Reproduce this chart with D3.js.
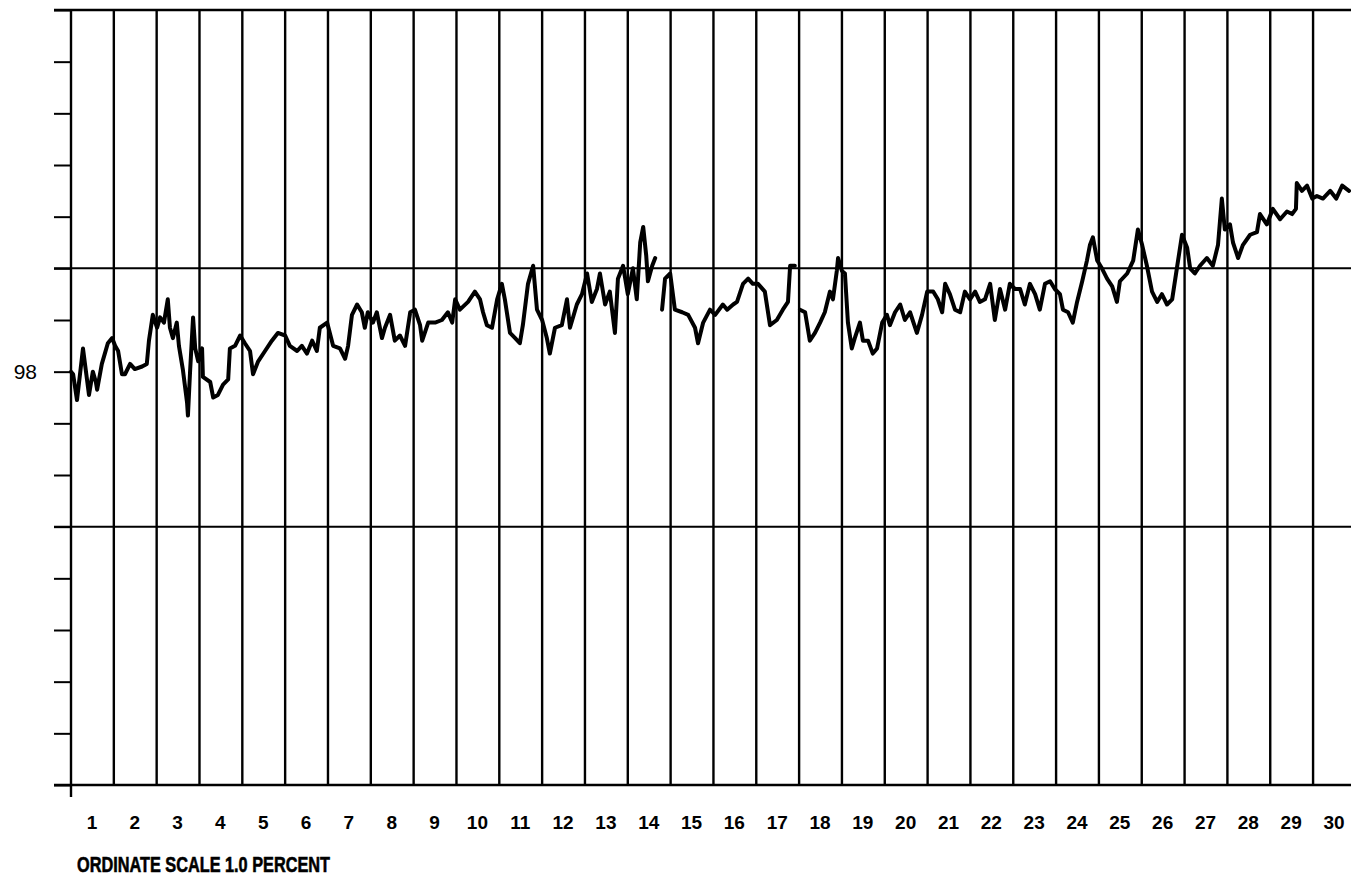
<!DOCTYPE html>
<html>
<head>
<meta charset="utf-8">
<script src="https://cdn.jsdelivr.net/npm/d3@7"></script>
<style>
  html, body { margin: 0; padding: 0; background: #fff; overflow: hidden; }
  svg { display: block; overflow: visible; }
</style>
</head>
<body>
<svg class="chartContainer" width="1351" height="880" viewBox="0 0 1351 880"></svg>
<script>
// day columns along the bottom
const days = d3.range(1, 31)

// left axis ticks, every 0.2 percent, only 98 is labelled
const yTicks = d3.range(0, 16).map(i => +(96.4 + i * 0.2).toFixed(1))
const yLabelled = [98]
const gridValues = [99.4, 98.4, 97.4, 96.4]

// trace: time in days, value in percent (null = pen gap)
const traceDay = [
  0.00, 0.05, 0.14, 0.21, 0.28, 0.35, 0.42, 0.51, 0.58, 0.61,
  0.72, 0.79, 0.86, 0.96, 1.03, 1.10, 1.19, 1.26, 1.38, 1.49,
  1.66, 1.77, 1.82, 1.91, 2.01, 2.08, 2.17, 2.26, 2.31, 2.38,
  2.47, 2.52, 2.61, 2.71, 2.73, 2.78, 2.85, 2.90, 2.97, 3.06,
  3.08, 3.25, 3.32, 3.43, 3.55, 3.67, 3.71, 3.83, 3.95, 4.06,
  4.18, 4.25, 4.37, 4.53, 4.69, 4.83, 5.00, 5.11, 5.28, 5.39,
  5.51, 5.63, 5.74, 5.81, 5.98, 6.12, 6.28, 6.40, 6.47, 6.56,
  6.68, 6.79, 6.86, 6.93, 7.05, 7.14, 7.26, 7.33, 7.45, 7.56,
  7.68, 7.80, 7.92, 8.03, 8.15, 8.20, 8.34, 8.50, 8.66, 8.80,
  8.90, 8.97, 9.08, 9.27, 9.43, 9.55, 9.62, 9.71, 9.83, 9.95,
  10.06, 10.13, 10.25, 10.37, 10.48, 10.55, 10.67, 10.79, 10.88, 11.00,
  11.11, 11.18, 11.30, 11.46, 11.58, 11.65, 11.81, 11.93, 12.05, 12.16,
  12.28, 12.35, 12.47, 12.58, 12.70, 12.77, 12.89, 13.00, 13.12, 13.21,
  13.29, 13.36, 13.43, 13.47, 13.57, 13.64, 13.72, 13.80, 13.87, 13.99,
  14.10, 14.27, 14.41, 14.57, 14.64, 14.76, 14.92, 15.04, 15.22, 15.32,
  15.46, 15.55, 15.69, 15.81, 15.92, 16.04, 16.20, 16.32, 16.48, 16.62,
  16.74, 16.79, 16.90, 16.96, 17.02, 17.14, 17.25, 17.37, 17.49, 17.60,
  17.72, 17.79, 17.88, 17.91, 18.00, 18.07, 18.14, 18.23, 18.30, 18.42,
  18.49, 18.61, 18.72, 18.82, 18.94, 19.05, 19.12, 19.24, 19.36, 19.47,
  19.59, 19.75, 19.87, 19.99, 20.13, 20.24, 20.34, 20.41, 20.52, 20.64,
  20.76, 20.87, 20.99, 21.11, 21.22, 21.34, 21.46, 21.57, 21.69, 21.81,
  21.92, 22.04, 22.16, 22.27, 22.39, 22.51, 22.62, 22.74, 22.86, 22.97,
  23.09, 23.16, 23.28, 23.39, 23.49, 23.61, 23.72, 23.79, 23.86, 23.96,
  24.07, 24.19, 24.31, 24.42, 24.49, 24.66, 24.80, 24.91, 25.01, 25.12,
  25.24, 25.36, 25.47, 25.59, 25.71, 25.82, 25.94, 26.06, 26.13, 26.24,
  26.36, 26.52, 26.66, 26.78, 26.87, 26.94, 27.06, 27.13, 27.25, 27.36,
  27.53, 27.69, 27.76, 27.92, 28.06, 28.23, 28.39, 28.51, 28.60, 28.62,
  28.74, 28.86, 28.98, 29.09, 29.23, 29.40, 29.54, 29.68, 29.84
]
const tracePct = [
  98.00, 97.99, 97.89, 97.99, 98.09, 98.00, 97.91, 98.00, 97.96, 97.93,
  98.03, 98.07, 98.11, 98.13, 98.10, 98.08, 97.99, 97.99, 98.03, 98.01,
  98.02, 98.03, 98.12, 98.22, 98.17, 98.21, 98.19, 98.28, 98.17, 98.13,
  98.19, 98.10, 98.01, 97.88, 97.83, 98.00, 98.21, 98.09, 98.04, 98.09,
  97.98, 97.96, 97.90, 97.91, 97.95, 97.97, 98.09, 98.10, 98.14, 98.11,
  98.08, 97.99, 98.04, 98.08, 98.12, 98.15, 98.14, 98.10, 98.08, 98.10,
  98.07, 98.12, 98.08, 98.17, 98.19, 98.10, 98.09, 98.05, 98.10, 98.22,
  98.26, 98.23, 98.17, 98.23, 98.19, 98.23, 98.13, 98.17, 98.22, 98.12,
  98.14, 98.10, 98.23, 98.24, 98.18, 98.12, 98.19, 98.19, 98.20, 98.23,
  98.19, 98.28, 98.24, 98.27, 98.31, 98.28, 98.23, 98.18, 98.17, 98.28,
  98.34, 98.28, 98.15, 98.13, 98.11, 98.18, 98.34, 98.41, 98.24, 98.20,
  98.13, 98.07, 98.17, 98.18, 98.28, 98.17, 98.26, 98.30, 98.38, 98.27,
  98.32, 98.38, 98.26, 98.31, 98.15, 98.36, 98.41, 98.30, 98.40, 98.28,
  98.50, 98.56, 98.45, 98.35, 98.41, 98.44, null, 98.24, 98.36, 98.38,
  98.24, 98.23, 98.22, 98.17, 98.11, 98.19, 98.24, 98.22, 98.26, 98.24,
  98.26, 98.27, 98.34, 98.36, 98.34, 98.34, 98.31, 98.18, 98.20, 98.24,
  98.27, 98.41, 98.41, null, 98.24, 98.23, 98.12, 98.15, 98.19, 98.23,
  98.31, 98.28, 98.39, 98.44, 98.39, 98.38, 98.19, 98.09, 98.13, 98.19,
  98.12, 98.12, 98.07, 98.09, 98.19, 98.22, 98.18, 98.23, 98.26, 98.20,
  98.23, 98.15, 98.22, 98.31, 98.31, 98.28, 98.23, 98.34, 98.30, 98.24,
  98.23, 98.31, 98.28, 98.31, 98.27, 98.28, 98.34, 98.20, 98.32, 98.24,
  98.34, 98.32, 98.32, 98.26, 98.34, 98.30, 98.24, 98.34, 98.35, 98.32,
  98.30, 98.24, 98.23, 98.19, 98.27, 98.35, 98.43, 98.49, 98.52, 98.43,
  98.40, 98.36, 98.33, 98.27, 98.35, 98.38, 98.43, 98.55, 98.49, 98.41,
  98.31, 98.27, 98.30, 98.26, 98.28, 98.40, 98.53, 98.48, 98.40, 98.38,
  98.41, 98.44, 98.41, 98.49, 98.67, 98.55, 98.57, 98.50, 98.44, 98.49,
  98.53, 98.54, 98.61, 98.57, 98.63, 98.59, 98.62, 98.61, 98.63, 98.73,
  98.70, 98.72, 98.67, 98.68, 98.67, 98.70, 98.67, 98.72, 98.70
]

const scaleNote = 'ORDINATE SCALE 1.0 PERCENT'

const margin = { top: 10, left: 71 }
const colWidth = 42.83
const innerWidth = colWidth * 30
const innerHeight = 775
const ink = '#000'
const fontFamily = '"Liberation Sans", Arial, sans-serif'

const svg = d3.select('svg.chartContainer')
const g = svg.append('g')
  .attr('transform', `translate(${margin.left},${margin.top})`)

const x = d3.scaleLinear().domain([0, 30]).range([0, innerWidth])
const y = d3.scaleLinear().domain([96.4, 99.4]).range([innerHeight, 0])

// left ticks, only 98 gets a label
const yAxis = d3.axisLeft(y)
  .tickValues(yTicks)
  .tickSize(17)
  .tickPadding(17)
  .tickFormat(d => yLabelled.includes(d) ? d : '')
g.append('g')
  .attr('class', 'yAxis')
  .call(yAxis)
  .call(a => a.select('.domain').remove())
  .call(a => a.selectAll('text').filter(d => !yLabelled.includes(d)).remove())
  .call(a => a.selectAll('line').attr('stroke', ink).attr('stroke-width', 2))
  .call(a => a.selectAll('text')
    .attr('fill', ink)
    .style('font-family', fontFamily)
    .style('font-size', '21px'))

// horizontal rules (top, 1% lines, bottom) run a little past the axis
g.append('g')
  .selectAll('line')
  .data(gridValues)
  .join('line')
  .attr('x1', -17)
  .attr('x2', innerWidth)
  .attr('y1', d => y(d))
  .attr('y2', d => y(d))
  .attr('stroke', ink)
  .attr('stroke-width', d => d === 99.4 || d === 96.4 ? 2.4 : 2)

// day boundaries
g.append('g')
  .selectAll('line')
  .data(days)
  .join('line')
  .attr('x1', d => x(d))
  .attr('x2', d => x(d))
  .attr('y1', y(99.4))
  .attr('y2', y(96.4))
  .attr('stroke', ink)
  .attr('stroke-width', 2.4)

// left axis line, runs slightly below the bottom rule
g.append('line')
  .attr('x1', x(0))
  .attr('x2', x(0))
  .attr('y1', y(99.4))
  .attr('y2', y(96.4) + 12)
  .attr('stroke', ink)
  .attr('stroke-width', 2.4)

// day numbers centred in each column
const xAxis = d3.axisBottom(x)
  .tickValues(days.map(d => d - 0.5))
  .tickSize(0)
  .tickPadding(31)
  .tickFormat(d => d + 0.5)
g.append('g')
  .attr('class', 'xAxis')
  .attr('transform', `translate(-1, ${innerHeight})`)
  .call(xAxis)
  .call(a => a.select('.domain').remove())
  .call(a => a.selectAll('text')
    .attr('fill', ink)
    .style('font-family', fontFamily)
    .style('font-weight', '900')
    .style('font-size', '19px'))

// the recorder trace
const line = d3.line()
  .defined(i => tracePct[i] !== null)
  .x(i => x(traceDay[i]))
  .y(i => y(tracePct[i]))
  .curve(d3.curveLinear)
g.append('path')
  .datum(d3.range(traceDay.length))
  .attr('d', line)
  .attr('fill', 'none')
  .attr('stroke', ink)
  .attr('stroke-width', 4)
  .attr('stroke-linejoin', 'round')
  .attr('stroke-linecap', 'round')

svg.append('text')
  .attr('x', 77)
  .attr('y', 872)
  .attr('textLength', 253)
  .attr('lengthAdjust', 'spacingAndGlyphs')
  .attr('fill', ink)
  .attr('stroke', ink)
  .attr('stroke-width', 0.6)
  .style('font-family', fontFamily)
  .style('font-weight', 'bold')
  .style('font-size', '22px')
  .text(scaleNote)
</script>
</body>
</html>
